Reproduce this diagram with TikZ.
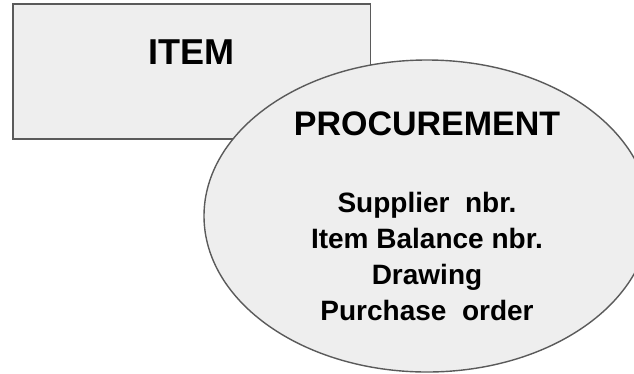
\documentclass[tikz,border=0pt]{standalone}
\usepackage{fontspec}
\setmainfont{Liberation Sans}
\usetikzlibrary{shapes.geometric}
\definecolor{boxfill}{HTML}{EEEEEE}
\definecolor{boxline}{HTML}{5A5A5A}
\begin{document}
\begin{tikzpicture}[x=1pt,y=-1pt]
	\tikzstyle{entity}=[draw=boxline,fill=boxfill,line width=1.4pt,inner sep=0pt]
	\tikzstyle{title}=[inner sep=0pt,font=\bfseries\fontsize{34}{40}\selectfont]
	\tikzstyle{fields}=[inner sep=0pt,align=center,font=\bfseries\fontsize{28}{36}\selectfont]
	\useasboundingbox (0,0) rectangle (634,373);
	\node [entity,rectangle,minimum width=357.7pt,minimum height=135pt] (item) at (191.85,71.5) {};
	\node [title,anchor=base,font=\bfseries\fontsize{36}{40}\selectfont] (itemname) at (191.5,64) {ITEM};
	\node [entity,ellipse,minimum width=446pt,minimum height=312pt] (proc) at (427,216) {};
	\node [title,anchor=base] (procname) at (427,135) {PROCUREMENT};
	\node [fields,anchor=base] (procfields) at (427,320) {Supplier\ \ nbr.\\Item Balance nbr.\\Drawing\\Purchase\ \ order};
\end{tikzpicture}
\end{document}
